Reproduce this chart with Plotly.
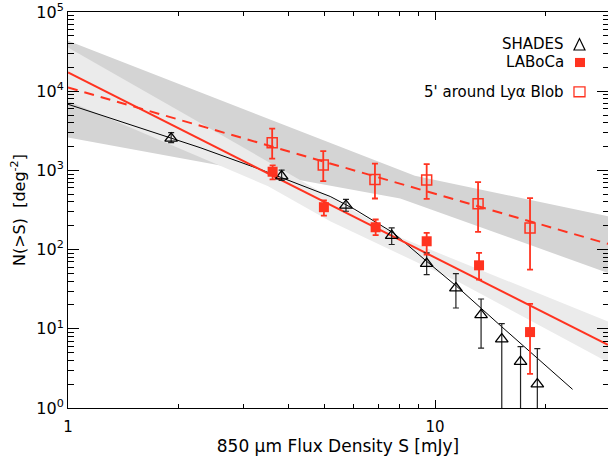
import numpy as np
import plotly.graph_objects as go

# ---------------- data ----------------
shades_S = [1.91, 3.82, 5.72, 7.62, 9.49, 11.4, 13.35, 15.2, 17.1, 19.0]
shades_N = [2540, 847, 361, 150, 66.5, 32.7, 15.0, 7.41, 3.86, 2.0]
shades_hi = [3000, 1010, 430, 188, 90.8, 49.7, 23.8, 11.6, 5.97, 5.63]
shades_lo = [2242, 747, 305, 116, 48.2, 18.3, 5.70, 0.5, 0.5, 0.5]

laboca_S = [3.61, 4.98, 6.89, 9.49, 13.18, 18.15]
laboca_N = [962, 343, 191.5, 127.4, 63.3, 9.09]
laboca_hi = [1157, 417, 240, 163, 90.8, 20.7]
laboca_lo = [769, 269, 152, 86.4, 41.7, 2.69]

blob_S = [3.60, 4.96, 6.86, 9.49, 13.1, 18.15]
blob_N = [2242, 1167, 769, 754, 379, 188]
blob_hi = [3373, 1754, 1216, 1202, 711, 446]
blob_lo = [1406, 732, 442, 438, 167.5, 55.8]

# fitted curves
shades_fit_S = [1.0, 2.29, 3.34, 5.18, 6.05, 7.70, 9.49, 11.46, 15.2, 23.7]
shades_fit_N = [6843, 1938, 1030, 469, 321, 162.7, 71.1, 34.3, 10.6, 1.72]
laboca_fit_S = [1.0, 29.6]
laboca_fit_N = [17260, 6.27]
blob_fit_S = [1.0, 29.6]
blob_fit_N = [11140, 118]

# confidence bands
blob_band_up_S = [1.0, 8.81, 29.6]
blob_band_up_N = [43350, 855, 264]
blob_band_lo_S = [1.0, 8.04, 29.6]
blob_band_lo_N = [2594, 442, 50.7]
laboca_band_up_S = [1.0, 8.11, 29.6]
laboca_band_up_N = [35730, 139.8, 12.37]
laboca_band_lo_S = [1.0, 3.51, 5.18, 11.7, 29.6]
laboca_band_lo_N = [7540, 632.6, 228, 38.2, 3.77]

x_major = [1, 10]
x_major_text = ["1", "10"]
x_minor = [2, 3, 4, 5, 6, 7, 8, 9, 20]
y_major = [1, 10, 100, 1e3, 1e4, 1e5]
y_major_text = ["10<sup>0</sup>", "10<sup>1</sup>", "10<sup>2</sup>",
                "10<sup>3</sup>", "10<sup>4</sup>", "10<sup>5</sup>"]
y_minor = [m * 10 ** k for k in range(5) for m in range(2, 10)]

RED = "#ff3320"
DARK = "#d4d4d4"
LIGHT = "#ebebeb"
FONT = "DejaVu Sans"
X_RANGE = [0, np.log10(29.6)]
Y_RANGE = [0, 5]

fig = go.Figure()


def band(up_s, up_n, lo_s, lo_n, color):
    xs = list(up_s) + list(lo_s)[::-1]
    ys = list(up_n) + list(lo_n)[::-1]
    fig.add_trace(go.Scatter(x=xs, y=ys, mode="lines", fill="toself",
                             fillcolor=color, line=dict(width=0, color=color),
                             hoverinfo="skip", showlegend=False))


band(blob_band_up_S, blob_band_up_N, blob_band_lo_S, blob_band_lo_N, DARK)
band(laboca_band_up_S, laboca_band_up_N, laboca_band_lo_S, laboca_band_lo_N, LIGHT)

fig.add_trace(go.Scatter(x=shades_fit_S, y=shades_fit_N, mode="lines",
                         line=dict(color="black", width=1), showlegend=False))
fig.add_trace(go.Scatter(x=laboca_fit_S, y=laboca_fit_N, mode="lines",
                         line=dict(color=RED, width=2), showlegend=False))
fig.add_trace(go.Scatter(x=blob_fit_S, y=blob_fit_N, mode="lines",
                         line=dict(color=RED, width=2, dash="10px,7px"),
                         showlegend=False))


def errs(n, hi, lo):
    return ([h - v for h, v in zip(hi, n)], [v - l for v, l in zip(n, lo)])


e_up, e_dn = errs(shades_N, shades_hi, shades_lo)
fig.add_trace(go.Scatter(
    x=shades_S, y=shades_N, mode="markers",
    marker=dict(symbol="triangle-up-open", size=11, color="black",
                line=dict(width=1.3, color="black")),
    error_y=dict(type="data", array=e_up, arrayminus=e_dn, symmetric=False,
                 color="#222222", thickness=1.2, width=3),
    showlegend=False))

e_up, e_dn = errs(laboca_N, laboca_hi, laboca_lo)
fig.add_trace(go.Scatter(
    x=laboca_S, y=laboca_N, mode="markers",
    marker=dict(symbol="square", size=10, color=RED, line=dict(width=0)),
    error_y=dict(type="data", array=e_up, arrayminus=e_dn, symmetric=False,
                 color=RED, thickness=1.8, width=3),
    showlegend=False))

e_up, e_dn = errs(blob_N, blob_hi, blob_lo)
fig.add_trace(go.Scatter(
    x=blob_S, y=blob_N, mode="markers",
    marker=dict(symbol="square-open", size=10, color=RED,
                line=dict(width=1.5, color=RED)),
    error_y=dict(type="data", array=e_up, arrayminus=e_dn, symmetric=False,
                 color=RED, thickness=1.8, width=3),
    showlegend=False))

# empty helper trace so the overlay (minor-tick) axes are rendered
fig.add_trace(go.Scatter(x=[None], y=[None], xaxis="x2", yaxis="y2",
                         mode="lines", hoverinfo="skip", showlegend=False))

axis_common = dict(type="log", showgrid=False, zeroline=False,
                   ticks="inside", tickcolor="black", tickwidth=1,
                   tickmode="array", automargin=False)

fig.update_layout(
    xaxis=dict(**axis_common, range=X_RANGE, showline=True, linecolor="black",
               linewidth=1, mirror="ticks",
               tickvals=x_major, ticktext=x_major_text, ticklen=8,
               tickfont=dict(family=FONT, size=15, color="black"),
               ticklabelstandoff=5,
               title=dict(text="850 μm Flux Density S [mJy]",
                          font=dict(family=FONT, size=17, color="black"),
                          standoff=2)),
    yaxis=dict(**axis_common, range=Y_RANGE, showline=True, linecolor="black",
               linewidth=1, mirror="ticks",
               tickvals=y_major, ticktext=y_major_text, ticklen=11,
               tickfont=dict(family=FONT, size=16, color="black"),
               ticklabelstandoff=0,
               title=dict(text="N(>S)  [deg<sup>-2</sup>]",
                          font=dict(family=FONT, size=16, color="black"),
                          standoff=6)),
    # minor ticks drawn on overlay axes (same scale, no labels)
    xaxis2=dict(**axis_common, range=X_RANGE, overlaying="x", anchor="y",
                side="bottom", showline=False, mirror="ticks",
                tickvals=x_minor, ticklen=4, showticklabels=False),
    yaxis2=dict(**axis_common, range=Y_RANGE, overlaying="y", anchor="x",
                side="left", showline=False, mirror="ticks",
                tickvals=y_minor, ticklen=5.5, showticklabels=False),
)

# legend (text + symbols, drawn at the upper right like the reference)
leg_font = dict(family=FONT, size=15, color="black")
for txt, yp in [("SHADES", 0.919), ("LABoCa", 0.8725),
                ("5' around Lyα Blob", 0.799)]:
    fig.add_annotation(text=txt, x=0.9222, y=yp, xref="paper", yref="paper",
                       xanchor="right", yanchor="middle", showarrow=False,
                       font=leg_font)

fig.add_shape(type="path", xref="paper", yref="paper",
              path="M 0.937 0.904 L 0.9574 0.904 L 0.9472 0.933 Z",
              line=dict(color="black", width=1.2))
fig.add_shape(type="rect", xref="paper", yref="paper",
              x0=0.9389, x1=0.9574, y0=0.861, y1=0.884,
              fillcolor=RED, line=dict(width=0))
fig.add_shape(type="rect", xref="paper", yref="paper",
              x0=0.937, x1=0.9574, y0=0.786, y1=0.811,
              line=dict(color=RED, width=1.3))

fig.update_layout(width=608, height=459,
                  margin=dict(l=68, r=0, t=12, b=51, autoexpand=False),
                  paper_bgcolor="white", plot_bgcolor="white",
                  showlegend=False)

fig.write_html("out.html", config={"displayModeBar": False},
               post_script="document.body.style.margin='0';"
                           "document.body.style.overflow='hidden';")
